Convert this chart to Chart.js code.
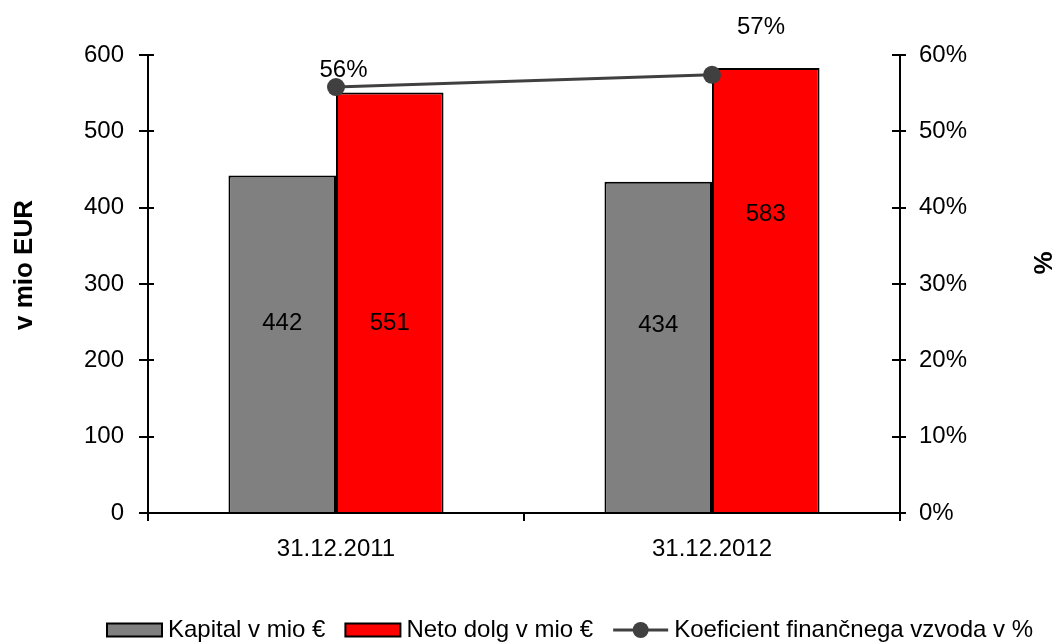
<!DOCTYPE html>
<html>
<head>
<meta charset="utf-8">
<script src="https://cdn.jsdelivr.net/npm/chart.js@4/dist/chart.umd.min.js"></script>
<style>
  html, body { margin: 0; padding: 0; background: #fff; }
  #wrap { width: 1059px; height: 642px; }
</style>
</head>
<body>
<div id="wrap"><canvas id="c" width="1059" height="642"></canvas></div>
<script>
// Categories and series
const categories = ['31.12.2011', '31.12.2012'];
const kapital = [442, 434];          // Kapital v mio €
const netoDolg = [551, 583];         // Neto dolg v mio €
const koeficient = [0.558, 0.574];   // Koeficient finančnega vzvoda (share)

// Axis ranges and tick steps
const leftMax = 600, leftStep = 100;
const rightMax = 0.6, rightStep = 0.1;

const FONT = "'Liberation Sans', Arial, sans-serif";

// Value labels inside the bars and above the line points
const valueLabels = {
  id: 'valueLabels',
  afterDatasetsDraw(chart, args, opts) {
    const ctx = chart.ctx;
    ctx.save();
    ctx.font = `24px ${FONT}`;
    ctx.fillStyle = '#000';
    ctx.textAlign = 'center';
    ctx.textBaseline = 'middle';
    chart.data.datasets.forEach((ds, di) => {
      const meta = chart.getDatasetMeta(di);
      meta.data.forEach((el, i) => {
        const v = ds.data[i];
        if (ds.type === 'line') {
          const off = opts.lineOffsets[i];
          ctx.fillText(Math.round(v * 100) + '%', el.x + off[0], el.y + off[1]);
        } else {
          const ys = chart.scales[ds.yAxisID];
          const y = ys.getPixelForValue(v * opts.insideAt[di][i]);
          ctx.fillText(String(v), el.x, y);
        }
      });
    });
    ctx.restore();
  }
};

// Inner halves of the value-axis tick marks
const innerTicks = {
  id: 'innerTicks',
  afterDraw(chart) {
    const ctx = chart.ctx;
    const area = chart.chartArea;
    ctx.save();
    ctx.strokeStyle = '#000';
    ctx.lineWidth = 2;
    [['y', area.left, 6], ['y1', area.right, -8]].forEach(([id, x, len]) => {
      const s = chart.scales[id];
      s.ticks.forEach(t => {
        const y = Math.round(s.getPixelForValue(t.value));
        ctx.beginPath();
        ctx.moveTo(x, y);
        ctx.lineTo(x + len, y);
        ctx.stroke();
      });
    });
    ctx.restore();
  }
};

// Rotated axis titles
const axisTitles = {
  id: 'axisTitles',
  afterDraw(chart, args, opts) {
    const ctx = chart.ctx;
    ctx.save();
    ctx.font = `bold 26px ${FONT}`;
    ctx.fillStyle = '#000';
    ctx.textAlign = 'center';
    ctx.textBaseline = 'middle';
    opts.items.forEach(it => {
      ctx.save();
      ctx.translate(it.x, it.y);
      ctx.rotate(-Math.PI / 2);
      ctx.fillText(it.text, 0, 0);
      ctx.restore();
    });
    ctx.restore();
  }
};

// Legend row under the chart
const bottomLegend = {
  id: 'bottomLegend',
  afterDraw(chart, args, opts) {
    const ctx = chart.ctx;
    ctx.save();
    ctx.font = `24px ${FONT}`;
    ctx.textBaseline = 'middle';
    ctx.textAlign = 'left';
    let x = opts.x;
    const y = opts.y;
    chart.data.datasets.forEach(ds => {
      if (ds.type === 'line') {
        ctx.strokeStyle = ds.borderColor;
        ctx.lineWidth = ds.borderWidth;
        ctx.beginPath();
        ctx.moveTo(x, y);
        ctx.lineTo(x + opts.keyWidth, y);
        ctx.stroke();
        ctx.fillStyle = ds.pointBackgroundColor;
        ctx.beginPath();
        ctx.arc(x + opts.keyWidth / 2, y, 8, 0, Math.PI * 2);
        ctx.fill();
      } else {
        ctx.fillStyle = ds.backgroundColor;
        ctx.fillRect(x, y - opts.keyHeight / 2, opts.keyWidth, opts.keyHeight);
        ctx.strokeStyle = '#000';
        ctx.lineWidth = 2;
        ctx.strokeRect(x, y - opts.keyHeight / 2, opts.keyWidth, opts.keyHeight);
      }
      x += opts.keyWidth + opts.keyGap;
      ctx.fillStyle = '#000';
      ctx.fillText(ds.label, x, y);
      x += ctx.measureText(ds.label).width + opts.itemGap;
    });
    ctx.restore();
  }
};

const tickFont = { family: FONT, size: 24 };

new Chart(document.getElementById('c'), {
  data: {
    labels: categories,
    datasets: [
      {
        type: 'bar',
        label: 'Kapital v mio €',
        data: kapital,
        yAxisID: 'y',
        backgroundColor: '#808080',
        borderColor: '#000',
        borderWidth: 2,
        order: 2
      },
      {
        type: 'bar',
        label: 'Neto dolg v mio €',
        data: netoDolg,
        yAxisID: 'y',
        backgroundColor: '#ff0000',
        borderColor: '#000',
        borderWidth: 2,
        order: 2
      },
      {
        type: 'line',
        label: 'Koeficient finančnega vzvoda v %',
        data: koeficient,
        yAxisID: 'y1',
        borderColor: '#404040',
        borderWidth: 3,
        pointRadius: 9,
        pointBackgroundColor: '#404040',
        pointBorderWidth: 0,
        tension: 0,
        order: 1
      }
    ]
  },
  options: {
    responsive: false,
    animation: false,
    devicePixelRatio: 1,
    layout: { padding: { top: 55, left: 0, right: 0, bottom: 0 } },
    datasets: { bar: { categoryPercentage: 0.572, barPercentage: 1.0 } },
    scales: {
      x: {
        type: 'category',
        grid: { drawOnChartArea: false, drawTicks: true, tickLength: 8, color: '#000', lineWidth: 2, offset: true },
        border: { display: true, color: '#000', width: 2 },
        ticks: { font: tickFont, color: '#000', padding: 14, maxRotation: 0 },
        afterFit(s) { s.height = 129; }
      },
      y: {
        position: 'left',
        min: 0, max: leftMax,
        grid: { drawOnChartArea: false, drawTicks: true, tickLength: 9, color: '#000', lineWidth: 2 },
        border: { display: true, color: '#000', width: 2 },
        ticks: { stepSize: leftStep, font: tickFont, color: '#000', padding: 15 },
        afterFit(s) { s.width = 148; }
      },
      y1: {
        position: 'right',
        min: 0, max: rightMax,
        grid: { drawOnChartArea: false, drawTicks: true, tickLength: 6, color: '#000', lineWidth: 2 },
        border: { display: true, color: '#000', width: 2 },
        ticks: {
          stepSize: rightStep, font: tickFont, color: '#000', padding: 13,
          callback: v => Math.round(v * 100) + '%'
        },
        afterFit(s) { s.width = 159; }
      }
    },
    plugins: {
      legend: { display: false },
      tooltip: { enabled: false },
      valueLabels: {
        insideAt: [[0.563, 0.565], [0.452, 0.672]],
        lineOffsets: [[7.5, -17], [49, -47]]
      },
      axisTitles: {
        items: [
          { text: 'v mio EUR', x: 25, y: 265 },
          { text: '%', x: 1045, y: 263 }
        ]
      },
      bottomLegend: { x: 107, y: 630, keyWidth: 55, keyHeight: 13, keyGap: 6, itemGap: 20 }
    }
  },
  plugins: [valueLabels, innerTicks, axisTitles, bottomLegend]
});
</script>
</body>
</html>
